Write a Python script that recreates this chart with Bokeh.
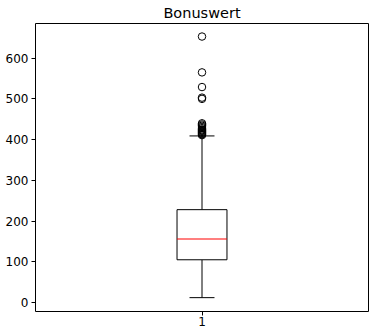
from bokeh.plotting import figure
from bokeh.models import FixedTicker, Range1d
from bokeh.embed import file_html
from bokeh.resources import INLINE

# data
category = [1]
q1 = [105]
median = [156]
q3 = [228]
whisker_low = [12]
whisker_high = [409]
outliers = [653, 565, 529, 503, 500, 440, 437, 434, 431, 428, 425, 423, 421, 419, 417, 415, 413, 411]
y_ticks = [0, 100, 200, 300, 400, 500, 600]

box_w = 0.15
cap_w = box_w / 2

p = figure(width=369, height=328, output_backend="svg", toolbar_location=None,
           x_range=Range1d(0.5, 1.5), y_range=Range1d(-22, 685),
           title="Bonuswert", min_border_left=35, min_border_right=1,
           min_border_top=3, min_border_bottom=0)
p.title.align = "center"
p.title.text_font = "DejaVu Sans"
p.title.text_font_size = "14.5px"
p.title.text_font_style = "normal"
p.title.text_color = "black"
p.title.standoff = 5
p.title.offset = 0

p.xgrid.visible = False
p.ygrid.visible = False
p.outline_line_color = "black"
p.outline_line_alpha = 1.0
p.outline_line_width = 1
p.background_fill_color = "white"
p.border_fill_color = "white"

for ax in (p.xaxis[0], p.yaxis[0]):
    ax.axis_line_color = None
    ax.major_tick_line_color = "black"
    ax.major_tick_out = 4
    ax.major_tick_in = 0
    ax.minor_tick_line_color = None
    ax.major_label_text_font = "DejaVu Sans"
    ax.major_label_text_font_size = "12px"
    ax.major_label_text_color = "black"
    ax.major_label_standoff = 3

p.xaxis[0].major_label_standoff = 1
p.xaxis[0].ticker = FixedTicker(ticks=category)
p.yaxis[0].ticker = FixedTicker(ticks=y_ticks)

x = category[0]
# whiskers
p.segment(x0=[x, x], y0=[whisker_low[0], q3[0]], x1=[x, x], y1=[q1[0], whisker_high[0]],
          line_color="black", line_width=1)
# caps
p.segment(x0=[x - cap_w / 2, x - cap_w / 2], y0=[whisker_low[0], whisker_high[0]],
          x1=[x + cap_w / 2, x + cap_w / 2], y1=[whisker_low[0], whisker_high[0]],
          line_color="black", line_width=1)
# box
p.quad(left=[x - box_w / 2], right=[x + box_w / 2], bottom=q1, top=q3,
       fill_color="white", line_color="black", line_width=1)
# median
p.segment(x0=[x - box_w / 2], y0=median, x1=[x + box_w / 2], y1=median,
          line_color="#ff0000", line_width=1.2)
# outliers
p.scatter(x=[x] * len(outliers), y=outliers, marker="circle", size=7.5,
          fill_color=None, line_color="black", line_width=1)

open("out.html", "w").write(file_html(p, INLINE))
